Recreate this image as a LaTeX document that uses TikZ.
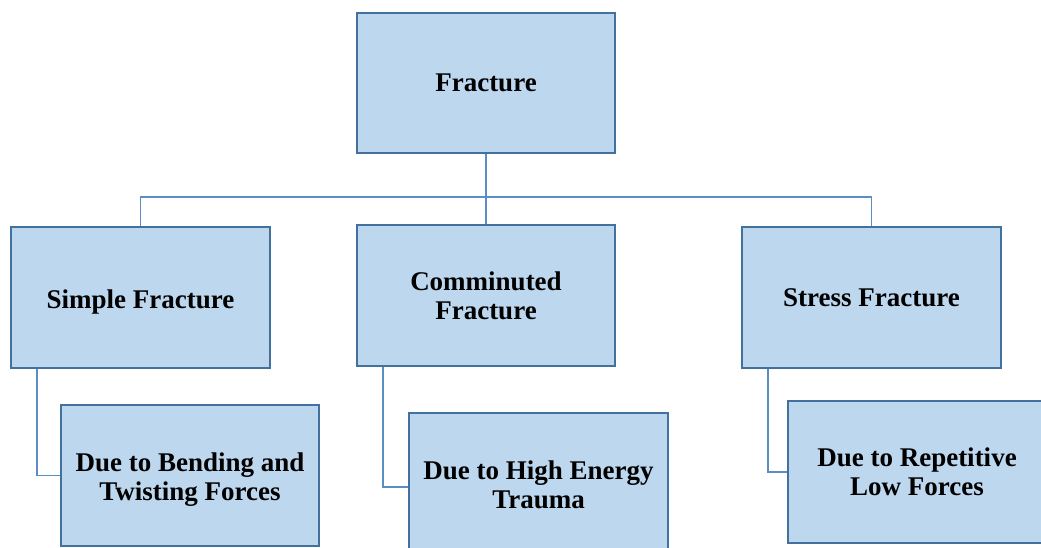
\documentclass[tikz,border=0pt]{standalone}
\usepackage{fontspec}
\setmainfont{Liberation Serif}
\definecolor{boxfill}{HTML}{BDD7EE}
\definecolor{boxline}{HTML}{41719C}
\definecolor{conn}{HTML}{5B8EC4}
\newcommand{\lowerby}{\rule{0pt}{27pt}}
\tikzset{
  fbox/.style={draw=boxline, fill=boxfill, line width=1.1pt, inner sep=0pt, align=center,
    font=\bfseries\fontsize{27}{29}\selectfont},
  link/.style={draw=conn, line width=1.1pt}
}
\begin{document}
\begin{tikzpicture}[x=1pt,y=-1pt]
\useasboundingbox (0,0) rectangle (1041,548);
\clip (0,0) rectangle (1041,548);
\node[fbox, minimum width=258pt, minimum height=140pt] (root) at (486,83) {Fracture};
\node[fbox, minimum width=259pt, minimum height=141pt] (simple) at (140.5,297.5) {\lowerby Simple Fracture};
\node[fbox, minimum width=258pt, minimum height=141pt] (comm) at (486,295.5) {Comminuted\\Fracture};
\node[fbox, minimum width=259pt, minimum height=141pt] (stress) at (871.5,297.5) {Stress Fracture};
\node[fbox, minimum width=258pt, minimum height=141pt] (bend) at (190,475.5) {\lowerby Due to Bending and\\Twisting Forces};
\node[fbox, minimum width=259pt, minimum height=144pt] (high) at (538.5,485) {Due to High Energy\\Trauma};
\node[fbox, minimum width=258pt, minimum height=142pt] (rep) at (917,472) {Due to Repetitive\\Low Forces};
\coordinate (hy) at (0,197);
\draw[link] (root.south) -- (comm.north);
\draw[link] (simple.north) |- (hy -| stress.north) -- (stress.north);
\draw[link] (simple.south -| 37,0) |- (bend.west);
\draw[link] (comm.south -| 383,0) |- ([yshift=-2pt]high.west);
\draw[link] (stress.south -| 768,0) |- (rep.west);
\end{tikzpicture}
\end{document}
